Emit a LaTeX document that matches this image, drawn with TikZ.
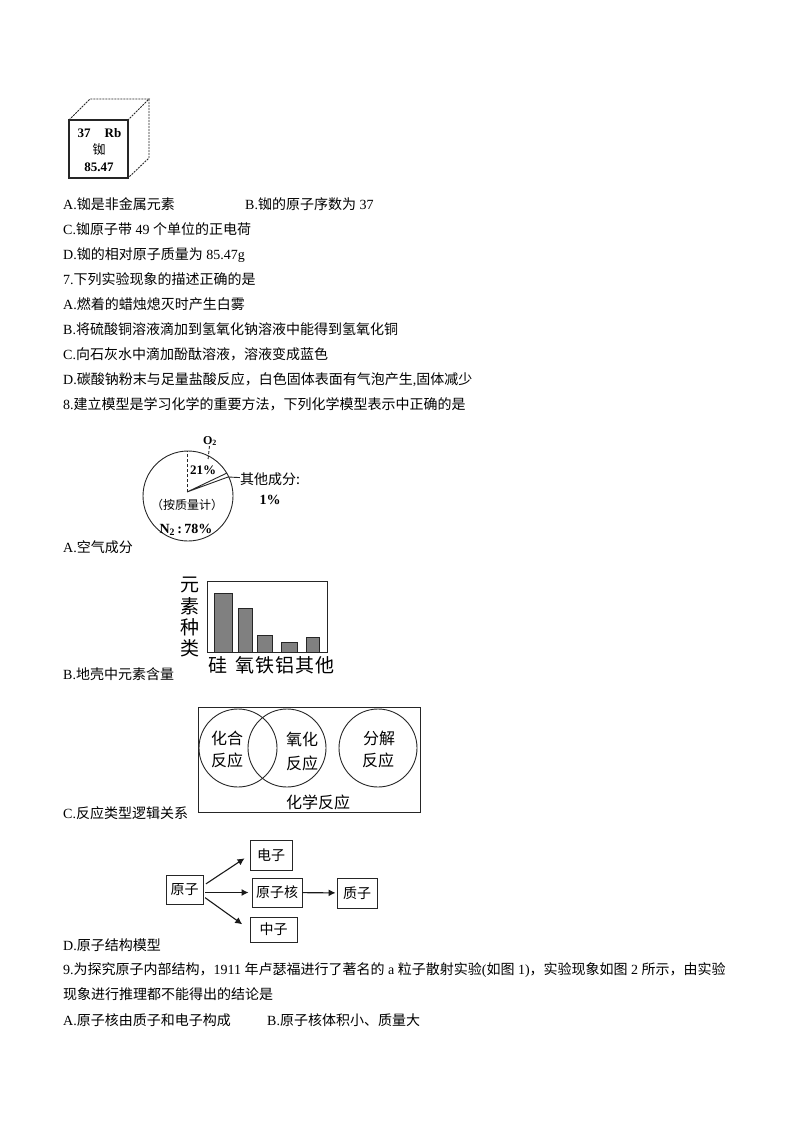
\documentclass[tikz,border=0pt]{standalone}
\usepackage{fontspec}
\setmainfont{Liberation Serif}
\newfontfamily\cjk{Noto Sans CJK SC}
\usetikzlibrary{positioning}
\usetikzlibrary{arrows.meta}
\newcommand{\zh}[1]{{\cjk #1}}
\newcommand{\fs}[1]{\fontsize{#1}{#1}\selectfont}
\tikzstyle{textline}=[anchor=base west,inner sep=0pt,yshift=-1pt,font=\fs{14}]
\tikzstyle{figlabel}=[inner sep=0pt,font=\fs{13}\cjk]
\tikzstyle{latinlabel}=[inner sep=0pt,font=\fs{13}\bfseries]
\tikzstyle{venntext}=[inner sep=0pt,font=\fs{16}\cjk]
\tikzstyle{axistext}=[inner sep=0pt,font=\fs{19}\cjk]
\tikzstyle{bar}=[draw=black!85,fill=black!50,line width=0.8pt]
\tikzstyle{stroke}=[draw=black!85,line width=0.9pt]
\tikzstyle{flowbox}=[stroke,inner sep=0pt,font=\fs{14}\cjk]
\tikzstyle{edge} = [draw=black!90,line width=1.1pt,-{Latex[length=7pt,width=7pt]}]

\begin{document}
\begin{tikzpicture}[x=1pt,y=-1pt]
   \useasboundingbox (0,0) rectangle (794,1123);

   % question text
   \foreach \name/\xpos/\ypos/\txt in {
       la/63/209/{A.\zh{铷是非金属元素}},
       lb/245/209/{B.\zh{铷的原子序数为} 37},
       lc/63/233/{C.\zh{铷原子带} 49 \zh{个单位的正电荷}},
       ld/63/258/{D.\zh{铷的相对原子质量为} 85.47g},
       qseven/63/283/{7.\zh{下列实验现象的描述正确的是}},
       sa/63/308/{A.\zh{燃着的蜡烛熄灭时产生白雾}},
       sb/63/333/{B.\zh{将硫酸铜溶液滴加到氢氧化钠溶液中能得到氢氧化铜}},
       sc/63/358/{C.\zh{向石灰水中滴加酚酞溶液，溶液变成蓝色}},
       sd/63/383/{D.\zh{碳酸钠粉末与足量盐酸反应，白色固体表面有气泡产生},\zh{固体减少}},
       qeight/63/408/{8.\zh{建立模型是学习化学的重要方法，下列化学模型表示中正确的是}},
       ma/63/551/{A.\zh{空气成分}},
       mb/63/678/{B.\zh{地壳中元素含量}},
       mc/63/817/{C.\zh{反应类型逻辑关系}},
       md/63/949/{D.\zh{原子结构模型}},
       qnine/63/973/{9.\zh{为探究原子内部结构，}1911 \zh{年卢瑟福进行了著名的} a \zh{粒子散射实验}(\zh{如图} 1)\zh{，实验现象如图} 2 \zh{所示，由实验}},
       qnineb/63/998/{\zh{现象进行推理都不能得出的结论是}},
       na/63/1024/{A.\zh{原子核由质子和电子构成}},
       nb/267/1024/{B.\zh{原子核体积小、质量大}}}
       \node[textline] (\name) at (\xpos,\ypos) {\txt};

   % element cell
   \draw[stroke,line width=1.2pt] (69,120) rectangle (128,178);
   \draw[stroke,densely dashed,dash pattern=on 2pt off 1pt] (69,120) -- (90,99) -- (149,99) -- (128,120);
   \draw[stroke,densely dashed,dash pattern=on 2pt off 1pt] (149,99) -- (149,158) -- (128,178);
   \node[latinlabel] (cellnum) at (84,133) {37};
   \node[latinlabel] (cellsym) at (113,133) {Rb};
   \node[figlabel] (cellname) at (99,150) {铷};
   \node[latinlabel] (cellmass) at (99,167) {85.47};

   % air pie
   \draw[stroke] (188,496) circle[radius=45];
   \coordinate (piecentre) at (187,492);
   \coordinate (wedgea) at (227,473);
   \coordinate (wedgeb) at (228,477);
   \draw[stroke,densely dashed] (piecentre) -- (187,451);
   \draw[stroke] (piecentre) -- (wedgea) (piecentre) -- (wedgeb);
   \node[latinlabel,font=\fs{12}\bfseries] (otwo) at (210,441) {O\textsubscript{2}};
   \node[latinlabel,font=\fs{13}\bfseries] (oxy) at (203,470) {21\%};
   \node[figlabel,font=\fs{14}\cjk] (other) at (270,479) {其他成分:};
   \node[latinlabel,font=\fs{14}\bfseries] (otherval) at (270,500) {1\%};
   \node[figlabel,font=\fs{12}\cjk] (bymass) at (187,505) {（按质量计）};
   \node[latinlabel,font=\fs{14}\bfseries] (nitro) at (186,530) {N\textsubscript{2}\,:\,78\%};
   \draw[stroke,densely dashed] (otwo) -- (208,460);
   \draw[stroke] (wedgeb) -- (other);

   % crust bars
   \draw[stroke] (207,581) rectangle (327,652);
   \foreach \xa/\xb/\ytop in {214/232/593, 238/252/608, 257/272/635, 281/297/642, 306/319/637}
       \draw[bar] (\xa,\ytop) rectangle (\xb,652);
   \foreach \name/\ypos/\txt in {ya/585/元, yb/606/素, yc/627/种, yd/648/类}
       \node[axistext] (\name) at (190,\ypos) {\txt};
   \foreach \name/\xpos/\txt in {xa/218/硅, xb/245/氧, xc/265/铁, xd/285/铝, xe/305/其, xf/325/他}
       \node[axistext] (\name) at (\xpos,665) {\txt};

   % reaction types
   \draw[stroke] (198,707) rectangle (420,812);
   \foreach \xpos in {238,287,378}
       \draw[stroke] (\xpos,748) circle[radius=39];
   \foreach \name/\xpos/\ypos/\txt in {va/227/738/化合, vb/227/760/反应, vc/302/739/氧化, vd/302/763/反应,
       ve/379/738/分解, vf/378/760/反应, vg/318/802/化学反应}
       \node[venntext] (\name) at (\xpos,\ypos) {\txt};

   % atom structure
   \foreach \name/\pos/\boxw/\boxh/\txt in {{atom/(184.5,889.5)/37/29/原子}, {electron/(271,855)/42/30/电子},
       {nucleus/(277,892.5)/50/29/原子核}, {proton/(357,893)/40/30/质子}, {neutron/(273.5,929.5)/47/25/中子}}
       \node[flowbox,minimum width=\boxw pt,minimum height=\boxh pt] (\name) at \pos {\txt};

   \path[edge,shorten <=3pt,shorten >=6pt] ([yshift=4pt]atom.east) -- (electron.west);
   \path[edge,shorten <=2pt,shorten >=3pt] (atom.east |- nucleus.west) -- (nucleus.west);
   \path[edge,shorten <=2pt,shorten >=9pt] ([yshift=-7pt]atom.east) -- (neutron.west);
   \path[edge,shorten >=1pt] (nucleus) -- (proton);
\end{tikzpicture}
\end{document}
